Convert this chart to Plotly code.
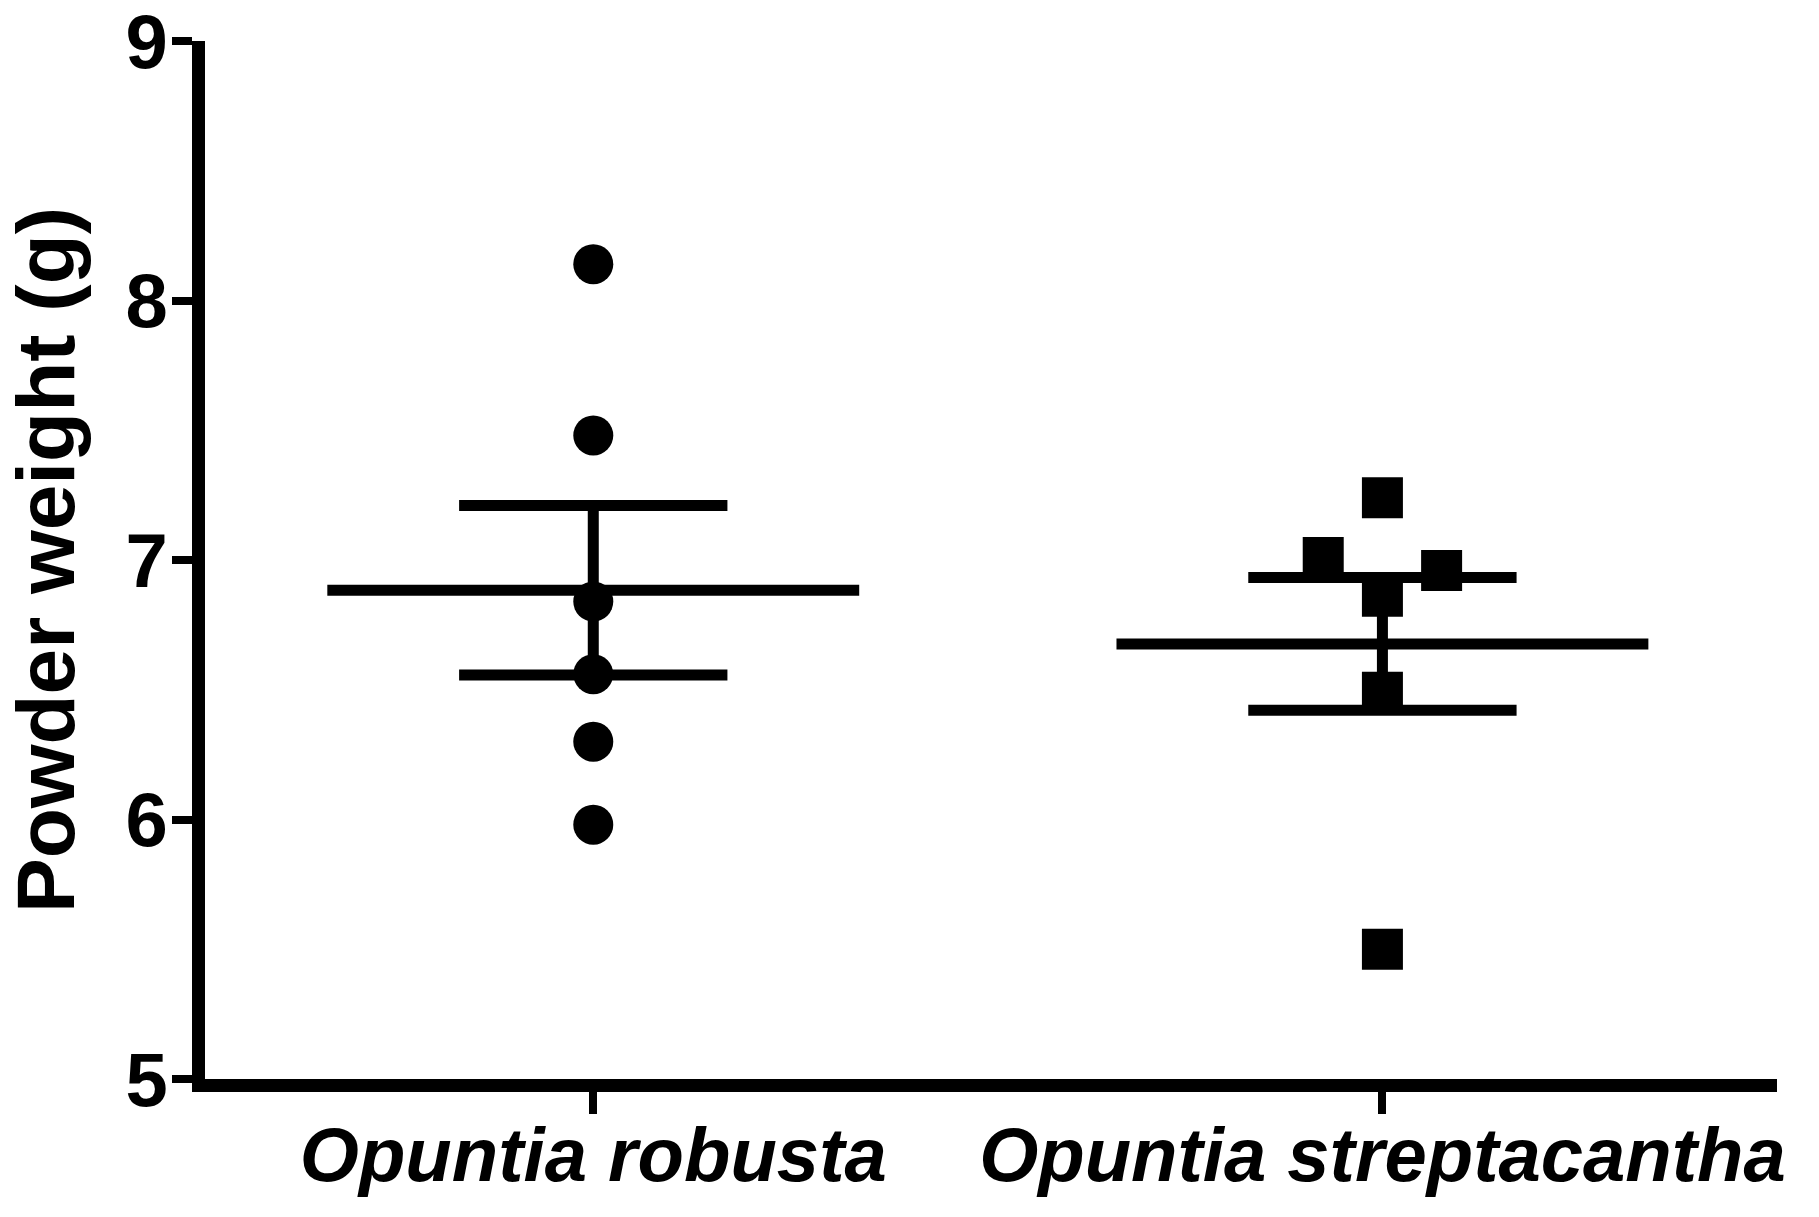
import numpy as np
import plotly.graph_objects as go

# ---- data ----
categories = ["Opuntia robusta", "Opuntia streptacantha"]
robusta_values = [8.14, 7.48, 6.84, 6.56, 6.30, 5.98]
streptacantha_values = [7.24, 7.01, 6.96, 6.86, 6.49, 5.50]
streptacantha_offsets = [0.0, -0.075, 0.075, 0.0, 0.0, 0.0]
y_ticks = [5, 6, 7, 8, 9]
y_title = "Powder weight (g)"

FONT = "Liberation Sans, Arial, Helvetica, sans-serif"
LW = 11
MEAN_HALF = 0.337
CAP_HALF = 0.17

fig = go.Figure()

groups = [
    (0, robusta_values, [0.0] * len(robusta_values), "circle", 40),
    (1, streptacantha_values, streptacantha_offsets, "square", 41),
]

for pos, vals, offs, sym, size in groups:
    arr = np.array(vals)
    mean = arr.mean()
    sem = arr.std(ddof=1) / np.sqrt(len(arr))
    fig.add_trace(go.Scatter(
        x=[pos + o for o in offs], y=vals, mode="markers",
        marker=dict(symbol=sym, size=size, color="black", line=dict(width=0)),
        showlegend=False, hoverinfo="y"))
    line = dict(color="black", width=LW)
    fig.add_trace(go.Scatter(x=[pos - MEAN_HALF, pos + MEAN_HALF], y=[mean, mean],
                             mode="lines", line=line, showlegend=False, hoverinfo="skip"))
    fig.add_trace(go.Scatter(x=[pos, pos], y=[mean - sem, mean + sem],
                             mode="lines", line=line, showlegend=False, hoverinfo="skip"))
    for yv in (mean - sem, mean + sem):
        fig.add_trace(go.Scatter(x=[pos - CAP_HALF, pos + CAP_HALF], y=[yv, yv],
                                 mode="lines", line=line, showlegend=False, hoverinfo="skip"))

fig.update_layout(
    width=1819, height=1217,
    margin=dict(l=205, r=42, t=41, b=138),
    paper_bgcolor="white", plot_bgcolor="white",
    xaxis=dict(
        range=[-0.492, 1.5], tickvals=[0, 1], ticktext=categories,
        ticks="outside", ticklen=22, tickwidth=8, tickcolor="black",
        showline=True, linewidth=13, linecolor="black",
        showgrid=False, zeroline=False, automargin=False,
        ticklabelstandoff=-24, ticklabeloverflow="allow",
        tickfont=dict(family=FONT, size=76, color="black", weight="bold", style="italic"),
    ),
    yaxis=dict(
        range=[5, 9], tickvals=y_ticks, ticktext=[str(t) for t in y_ticks],
        ticks="outside", ticklen=20, tickwidth=8, tickcolor="black",
        showline=True, linewidth=13, linecolor="black",
        showgrid=False, zeroline=False, automargin=False,
        ticklabelstandoff=-11, ticklabeloverflow="allow",
        tickfont=dict(family=FONT, size=76, color="black", weight="bold"),
        title=dict(text=y_title, standoff=29,
                   font=dict(family=FONT, size=82, color="black", weight="bold")),
    ),
)

fig.write_html("out.html", config={"displayModeBar": False},
               post_script="document.body.style.margin='0';")
